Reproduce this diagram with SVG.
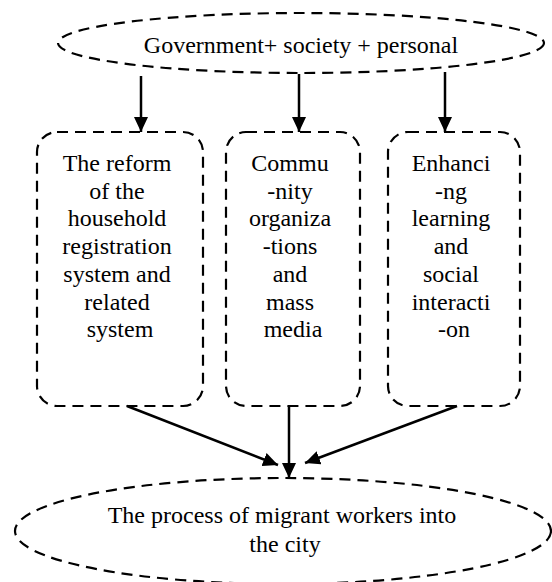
<svg xmlns="http://www.w3.org/2000/svg" width="552" height="582" viewBox="0 0 552 582">
  <defs>
    <marker id="arrow" markerUnits="userSpaceOnUse" markerWidth="16" markerHeight="14" refX="15" refY="7" orient="auto">
      <path d="M0,0 L15,7 L0,14 Z" fill="#000"/>
    </marker>
    <style>
      .shape { fill: none; stroke: #000; stroke-width: 2.2; stroke-dasharray: 11 7; }
      .label { font-family: "Liberation Serif", "Times New Roman", serif; font-size: 24px; fill: #000; text-anchor: middle; }
      .link { fill: none; stroke: #000; stroke-width: 2.5; marker-end: url(#arrow); }
    </style>
  </defs>
  <rect width="552" height="582" fill="#fff"/>

  <g id="source">
    <ellipse class="shape" cx="301" cy="43" rx="243" ry="30"/>
    <text class="label" x="301" y="53">Government+ society + personal</text>
  </g>

  <g id="reform">
    <rect class="shape" x="37" y="132" width="166" height="274" rx="20" ry="20"/>
    <text class="label">
      <tspan x="120" y="171">The reform</tspan>
      <tspan x="120" y="198.7">of the</tspan>
      <tspan x="120" y="226.4">household</tspan>
      <tspan x="120" y="254.1">registration</tspan>
      <tspan x="120" y="281.8">system and</tspan>
      <tspan x="120" y="309.5">related</tspan>
      <tspan x="120" y="337.2">system</tspan>
    </text>
  </g>

  <g id="community">
    <rect class="shape" x="226" y="132" width="134" height="274" rx="20" ry="20"/>
    <text class="label">
      <tspan x="293" y="171">Commu</tspan>
      <tspan x="293" y="198.7">-nity</tspan>
      <tspan x="293" y="226.4">organiza</tspan>
      <tspan x="293" y="254.1">-tions</tspan>
      <tspan x="293" y="281.8">and</tspan>
      <tspan x="293" y="309.5">mass</tspan>
      <tspan x="293" y="337.2">media</tspan>
    </text>
  </g>

  <g id="learning">
    <rect class="shape" x="388" y="132" width="132" height="274" rx="20" ry="20"/>
    <text class="label">
      <tspan x="454" y="171">Enhanci</tspan>
      <tspan x="454" y="198.7">-ng</tspan>
      <tspan x="454" y="226.4">learning</tspan>
      <tspan x="454" y="254.1">and</tspan>
      <tspan x="454" y="281.8">social</tspan>
      <tspan x="454" y="309.5">interacti</tspan>
      <tspan x="454" y="337.2">-on</tspan>
    </text>
  </g>

  <g id="target">
    <ellipse class="shape" cx="283" cy="531" rx="268" ry="53"/>
    <text class="label">
      <tspan x="285" y="523">The process of migrant workers into</tspan>
      <tspan x="285" y="552">the city</tspan>
    </text>
  </g>

  <g id="connectors">
    <line class="link" x1="141" y1="76" x2="141" y2="132"/>
    <line class="link" x1="299" y1="74" x2="299" y2="132"/>
    <line class="link" x1="445" y1="72" x2="445" y2="132"/>
    <line class="link" x1="127" y1="406" x2="278" y2="465"/>
    <line class="link" x1="289" y1="406" x2="289" y2="478"/>
    <line class="link" x1="457" y1="406" x2="305" y2="463"/>
  </g>
</svg>
